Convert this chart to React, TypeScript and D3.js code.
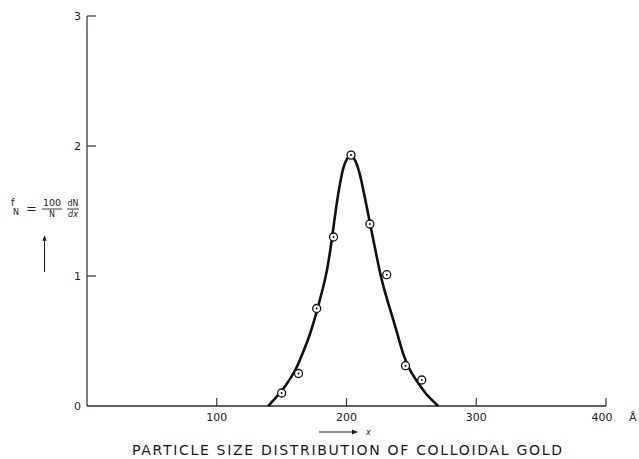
import * as d3 from 'd3'

// tick values
const xTicks = [100, 200, 300, 400]
const yTicks = [0, 1, 2, 3]

// measured points (particle size in Å, f_N)
const pointX = [150, 163, 177, 190, 203.5, 218, 231, 245.5, 258]
const pointY = [0.1, 0.25, 0.75, 1.3, 1.93, 1.4, 1.01, 0.31, 0.2]

// hand-drawn curve
const curveX = [139.7, 146.2, 152.6, 161.1, 166.2, 171.3, 175.2, 178.8, 182.1, 184.7, 188.8, 191.9, 196.3, 198.8, 203.5,
  207.3, 210.4, 215.6, 220.7, 225.3, 228.4, 232.2, 236.1, 239.9, 243.3, 248.4, 257.2, 263, 270.7]
const curveY = [0, 0.07, 0.148, 0.277, 0.405, 0.533, 0.66, 0.79, 0.918, 1.02, 1.277, 1.533, 1.79, 1.88, 1.95,
  1.88, 1.79, 1.533, 1.277, 1.046, 0.918, 0.79, 0.66, 0.533, 0.405, 0.277, 0.148, 0.07, 0]

const title = 'PARTICLE SIZE DISTRIBUTION OF COLLOIDAL GOLD'

export default function App() {
  const width = 639
  const height = 459

  const x = d3.scaleLinear().domain([0, 400]).range([87, 606])
  const y = d3.scaleLinear().domain([0, 3]).range([406, 16])

  const curve = curveX.map((v, i) => [v, curveY[i]] as [number, number])
  // basis spline smooths out the small tracing noise
  const line = d3.line<[number, number]>()
    .x(d => x(d[0]))
    .y(d => y(d[1]))
    .curve(d3.curveBasis)

  const axisColor = '#3a3a3a'
  const font = "'DejaVu Sans', sans-serif"

  return (
    <svg width={width} height={height} style={{ position: 'absolute', left: 0, top: 0, background: '#fff' }}
      fontFamily={font}>
      <defs>
        <marker id="arrowUp" viewBox="0 0 10 10" refX="5" refY="5" markerWidth="5" markerHeight="7" orient="auto">
          <path d="M0,1 L10,5 L0,9 z" fill="#222" />
        </marker>
      </defs>

      {/* y axis */}
      <line x1={x(0)} x2={x(0)} y1={y(0)} y2={y(3)} stroke={axisColor} strokeWidth={1.3} />
      {yTicks.map(t => (
        <g key={'y' + t}>
          {t > 0 && <line x1={x(0)} x2={x(0) + 9} y1={y(t)} y2={y(t)} stroke={axisColor} strokeWidth={1.3} />}
          <text x={x(0) - 6} y={y(t)} dy="0.35em" textAnchor="end" fontSize={11} fill="#222">{t}</text>
        </g>
      ))}

      {/* x axis */}
      <line x1={x(0)} x2={x(400)} y1={y(0)} y2={y(0)} stroke="#2a2a2a" strokeWidth={1.6} />
      {xTicks.map(t => (
        <g key={'x' + t}>
          <line x1={x(t)} x2={x(t)} y1={y(0)} y2={y(0) - 8} stroke={axisColor} strokeWidth={1.2} />
          <text x={x(t) + (t === 400 ? -4 : 0)} y={y(0) + 11} dy="0.35em" textAnchor="middle" fontSize={11} fill="#222">{t}</text>
        </g>
      ))}
      <text x={629} y={y(0) + 11} dy="0.35em" fontSize={11} fill="#222">Å</text>

      {/* x direction arrow */}
      <line x1={319} x2={355} y1={432} y2={432} stroke="#222" strokeWidth={1.2} markerEnd="url(#arrowUp)" />
      <text x={366} y={432} dy="0.35em" fontSize={8} fontStyle="italic" fill="#222">x</text>

      {/* y label */}
      <g fill="#222">
        <text x={11} y={206} fontSize={10}>f</text>
        <text x={13} y={215} fontSize={8}>N</text>
        <text x={26} y={213} fontSize={13}>=</text>
        <text x={52} y={206} fontSize={9.5} textAnchor="middle">100</text>
        <line x1={42} x2={62} y1={209} y2={209} stroke="#222" strokeWidth={0.9} />
        <text x={52} y={217} fontSize={8} textAnchor="middle">N</text>
        <text x={73} y={206} fontSize={8} textAnchor="middle">dN</text>
        <line x1={67} x2={79} y1={209} y2={209} stroke="#222" strokeWidth={0.9} />
        <text x={73} y={217} fontSize={8} textAnchor="middle" fontStyle="italic">dx</text>
      </g>
      <line x1={44.5} x2={44.5} y1={272} y2={238} stroke="#222" strokeWidth={1.1} markerEnd="url(#arrowUp)" />

      {/* curve */}
      <path d={line(curve) ?? ''} fill="none" stroke="#111" strokeWidth={2.6} strokeLinejoin="round" />

      {/* data points */}
      {pointX.map((v, i) => (
        <g key={'p' + i}>
          <circle cx={x(v)} cy={y(pointY[i])} r={4} fill="#fff" stroke="#111" strokeWidth={1.3} />
          <circle cx={x(v)} cy={y(pointY[i])} r={1} fill="#111" />
        </g>
      ))}

      {/* title */}
      <text x={132} y={450} dy="0.35em" fontSize={14} textLength={430} lengthAdjust="spacing" fill="#1a1a1a">{title}</text>
    </svg>
  )
}
